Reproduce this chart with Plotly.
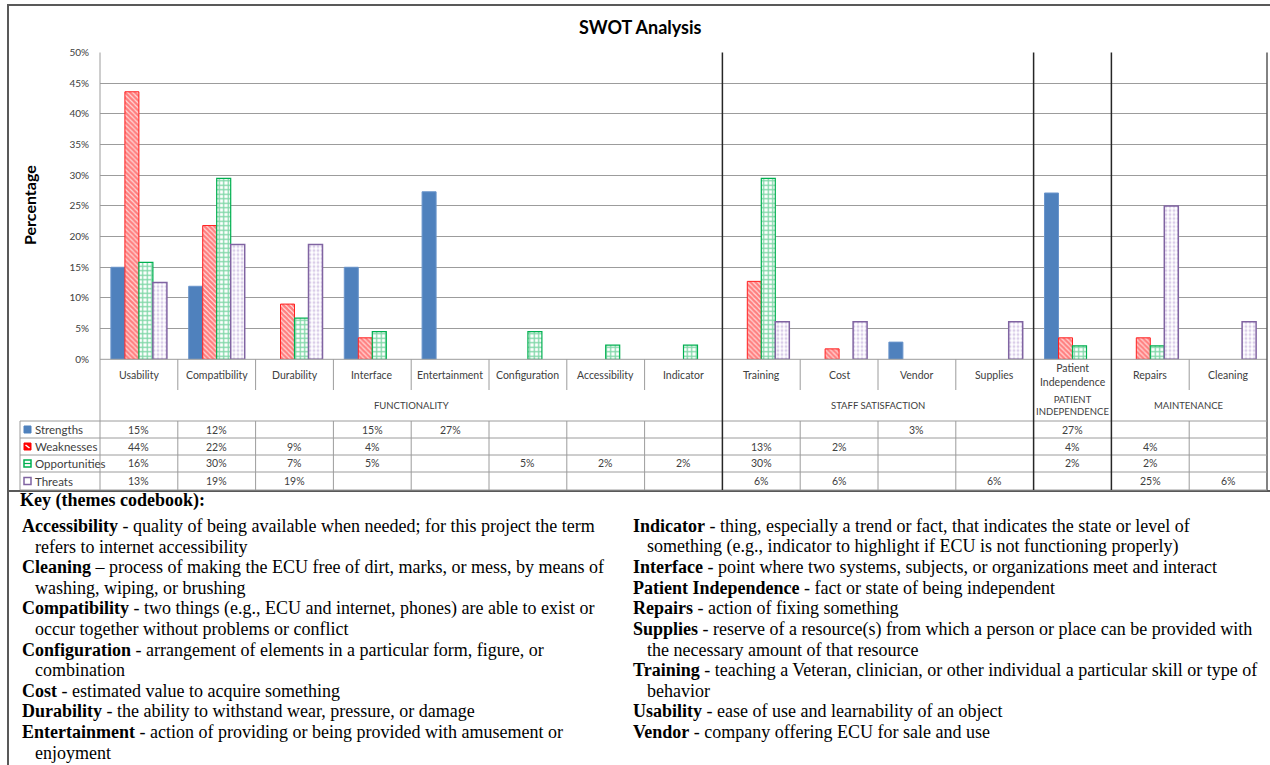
import plotly.graph_objects as go

# ---- data -------------------------------------------------------------
categories = ["Usability", "Compatibility", "Durability", "Interface", "Entertainment",
              "Configuration", "Accessibility", "Indicator", "Training", "Cost", "Vendor",
              "Supplies", "Patient<br>Independence", "Repairs", "Cleaning"]
themes = ["FUNCTIONALITY", "STAFF SATISFACTION", "PATIENT<br>INDEPENDENCE", "MAINTENANCE"]
theme_first = [0, 8, 12, 13]
theme_last = [7, 11, 12, 14]

strengths = [15.0, 11.9, None, 15.0, 27.3, None, None, None, None, None, 2.8, None, 27.1, None, None]
weaknesses = [43.6, 21.8, 9.0, 3.5, None, None, None, None, 12.7, 1.7, None, None, 3.5, 3.5, None]
opportunities = [15.8, 29.5, 6.7, 4.5, None, 4.5, 2.3, 2.3, 29.5, None, None, None, 2.2, 2.2, None]
threats = [12.5, 18.7, 18.7, None, None, None, None, None, 6.1, 6.1, None, 6.1, None, 25.0, 6.1]

series_names = ["Strengths", "Weaknesses", "Opportunities", "Threats"]
y_ticks = [0, 5, 10, 15, 20, 25, 30, 35, 40, 45, 50]

key_left = [
    ("Accessibility", " - quality of being available when needed; for this project the term",
     ["refers to internet accessibility"]),
    ("Cleaning", " \u2013 process of making the ECU free of dirt, marks, or mess, by means of",
     ["washing, wiping, or brushing"]),
    ("Compatibility", " - two things (e.g., ECU and internet, phones) are able to exist or",
     ["occur together without problems or conflict"]),
    ("Configuration", " - arrangement of elements in a particular form, figure, or",
     ["combination"]),
    ("Cost", " - estimated value to acquire something", []),
    ("Durability", " - the ability to withstand wear, pressure, or damage", []),
    ("Entertainment", " - action of providing or being provided with amusement or",
     ["enjoyment"]),
]
key_right = [
    ("Indicator", " - thing, especially a trend or fact, that indicates the state or level of",
     ["something (e.g., indicator to highlight if ECU is not functioning properly)"]),
    ("Interface", " - point where two systems, subjects, or organizations meet and interact", []),
    ("Patient Independence", " - fact or state of being independent", []),
    ("Repairs", " - action of fixing something", []),
    ("Supplies", " - reserve of a resource(s) from which a person or place can be provided with",
     ["the necessary amount of that resource"]),
    ("Training", " - teaching a Veteran, clinician, or other individual a particular skill or type of",
     ["behavior"]),
    ("Usability", " - ease of use and learnability of an object", []),
    ("Vendor", " - company offering ECU for sale and use", []),
]

# ---- geometry (pixels) ------------------------------------------------
W, H = 1270, 765
PLOT_L, PLOT_R, PLOT_T, PLOT_B = 100, 1267, 52.5, 359.3
TABLE_L = 20
ROW_Y = [421, 438, 455, 472, 490]
CAT_ROW_BOTTOM = 390
SEPARATORS = [7.5, 11.5, 12.5]

def fx(px):
    return px / W

def fy(py):
    return 1 - py / H

CHART_FONT = "Lato, Calibri, Arial, sans-serif"
SERIF = "Liberation Serif, Times New Roman, serif"
GRID = "#9C9C9C"
DARK = "#404040"

fig = go.Figure()

x_idx = list(range(len(categories)))
fig.add_trace(go.Bar(
    name="Strengths", x=x_idx, y=strengths,
    marker=dict(color="#4F81BD", line=dict(color="#6A95CC", width=1)),
))
fig.add_trace(go.Bar(
    name="Weaknesses", x=x_idx, y=weaknesses,
    marker=dict(color="#FF0000", line=dict(color="#FF2020", width=1),
                pattern=dict(shape="\\", fgcolor="#FF0000", bgcolor="#FFFFFF",
                             size=3.5, solidity=0.75, fillmode="overlay")),
))
fig.add_trace(go.Bar(
    name="Opportunities", x=x_idx, y=opportunities,
    marker=dict(color="#FFFFFF", line=dict(color="#00B050", width=1.2),
                pattern=dict(shape="+", fgcolor="#00B050", bgcolor="#FFFFFF",
                             size=4.5, solidity=0.5, fillmode="overlay")),
))
fig.add_trace(go.Bar(
    name="Threats", x=x_idx, y=threats,
    marker=dict(color="#FFFFFF", line=dict(color="#8064A2", width=1.5),
                pattern=dict(shape=".", fgcolor="#B59DD3", bgcolor="#FFFFFF",
                             size=4, solidity=0.45, fillmode="overlay")),
))

shapes = []

def line(x0, y0, x1, y1, color=GRID, width=1, xref="paper"):
    shapes.append(dict(type="line", xref=xref, yref="paper",
                       x0=x0, y0=y0, x1=x1, y1=y1,
                       line=dict(color=color, width=width), layer="above"))

# outer frame
shapes.append(dict(type="rect", xref="paper", yref="paper",
                   x0=fx(8), y0=fy(491), x1=fx(1280), y1=fy(5),
                   line=dict(color="#595959", width=2), layer="below"))
line(fx(8), fy(491), fx(8), fy(765), color="#595959", width=2)

# axis frame lines
line(fx(PLOT_L), fy(PLOT_T), fx(PLOT_L), fy(ROW_Y[-1]))
line(fx(PLOT_L), fy(PLOT_B), fx(PLOT_R), fy(PLOT_B))
line(fx(PLOT_R), fy(PLOT_T), fx(PLOT_R), fy(ROW_Y[-1]), color="#595959", width=1.5)

# data-table horizontal rules
for ry in ROW_Y:
    line(fx(TABLE_L), fy(ry), fx(PLOT_R), fy(ry))
line(fx(TABLE_L), fy(ROW_Y[0]), fx(TABLE_L), fy(ROW_Y[-1]))

# category dividers
for i in range(1, len(categories)):
    xb = i - 0.5
    if xb in SEPARATORS:
        continue
    line(xb, fy(PLOT_B), xb, fy(CAT_ROW_BOTTOM), xref="x")
    line(xb, fy(ROW_Y[0]), xb, fy(ROW_Y[-1]), xref="x")

# theme separators
for xb in SEPARATORS:
    line(xb, fy(PLOT_T), xb, fy(ROW_Y[-1]), color="#262626", width=1.5, xref="x")

# legend swatches in the table
sw = 7
for k in range(4):
    cy = (ROW_Y[k] + ROW_Y[k + 1]) / 2
    x0, x1 = fx(24), fx(24 + sw)
    y0, y1 = fy(cy + sw / 2), fy(cy - sw / 2)
    if k == 0:
        shapes.append(dict(type="rect", xref="paper", yref="paper", x0=x0, x1=x1, y0=y0, y1=y1,
                           fillcolor="#4F81BD", line=dict(color="#4F81BD", width=1), layer="above"))
    elif k == 1:
        shapes.append(dict(type="rect", xref="paper", yref="paper", x0=x0, x1=x1, y0=y0, y1=y1,
                           fillcolor="#FF0000", line=dict(color="#FF0000", width=1), layer="above"))
        line(fx(25.5), fy(cy - 1.5), fx(24 + sw - 1.5), fy(cy + 1.5), color="#FFFFFF", width=1.5)
    elif k == 2:
        shapes.append(dict(type="rect", xref="paper", yref="paper", x0=x0, x1=x1, y0=y0, y1=y1,
                           fillcolor="#FFFFFF", line=dict(color="#00B050", width=1.5), layer="above"))
        line(x0, fy(cy), x1, fy(cy), color="#00B050", width=1.2)
    else:
        shapes.append(dict(type="rect", xref="paper", yref="paper", x0=x0, x1=x1, y0=y0, y1=y1,
                           fillcolor="#FFFFFF", line=dict(color="#8064A2", width=1.5), layer="above"))

annotations = []

def text(x, y, s, size=10.5, color=DARK, xref="paper", xanchor="center", font=CHART_FONT,
         align="center", angle=0):
    annotations.append(dict(x=x, y=y, xref=xref, yref="paper", text=s, showarrow=False,
                            xanchor=xanchor, yanchor="middle", align=align, textangle=angle,
                            font=dict(family=font, size=size, color=color)))

# title and axis title
text(fx(640), fy(27), "<b>SWOT Analysis</b>", size=18, color="#000000")
text(fx(30), fy(205), "<b>Percentage</b>", size=16, color="#000000", angle=-90)

# category names
for i, c in enumerate(categories):
    text(i, fy(375), c, size=10.5, xref="x")

# theme names
for t, a, b in zip(themes, theme_first, theme_last):
    text((a + b) / 2, fy(405), t, size=9.5, xref="x")

# data table values and row labels
for k, (nm, vals) in enumerate(zip(series_names, [strengths, weaknesses, opportunities, threats])):
    cy = (ROW_Y[k] + ROW_Y[k + 1]) / 2
    text(fx(33), fy(cy), nm, size=11.5, xanchor="left")
    for i, v in enumerate(vals):
        if v is not None:
            text(i, fy(cy), f"{int(v + 0.5)}%", size=10.5, xref="x")

# key (codebook)
LINE_H = 20.6
KEY_SIZE = 18
text(fx(18), fy(500), "<b>Key (themes codebook):</b>", size=KEY_SIZE, color="#000000",
     xanchor="left", font=SERIF)

def key_column(entries, x_term, x_cont, y_start):
    y = y_start
    for term, desc, cont in entries:
        text(fx(x_term), fy(y), f"<b>{term}</b>{desc}", size=KEY_SIZE, color="#000000",
             xanchor="left", font=SERIF, align="left")
        y += LINE_H
        for c in cont:
            text(fx(x_cont), fy(y), c, size=KEY_SIZE, color="#000000",
                 xanchor="left", font=SERIF, align="left")
            y += LINE_H

key_column(key_left, 20, 33, 526)
key_column(key_right, 631, 645, 526)

fig.update_layout(
    width=W, height=H,
    margin=dict(l=0, r=0, t=0, b=0, pad=0, autoexpand=False),
    paper_bgcolor="#FFFFFF", plot_bgcolor="#FFFFFF",
    barmode="group", bargap=0.28, bargroupgap=0,
    showlegend=False,
    xaxis=dict(domain=[fx(PLOT_L), fx(PLOT_R)], range=[-0.5, len(categories) - 0.5],
               showticklabels=False, showgrid=False, zeroline=False, ticks="",
               automargin=False, fixedrange=True),
    yaxis=dict(domain=[fy(PLOT_B), fy(PLOT_T)], range=[0, 50], tickvals=y_ticks,
               ticktext=[f"{t}%" for t in y_ticks], showgrid=True, gridcolor=GRID,
               gridwidth=1.4, zeroline=False, ticks="", ticklen=0, ticklabelstandoff=10,
               automargin=False,
               tickfont=dict(family=CHART_FONT, size=10, color=DARK), fixedrange=True),
    shapes=shapes,
    annotations=annotations,
)

fig.write_html("out.html")
